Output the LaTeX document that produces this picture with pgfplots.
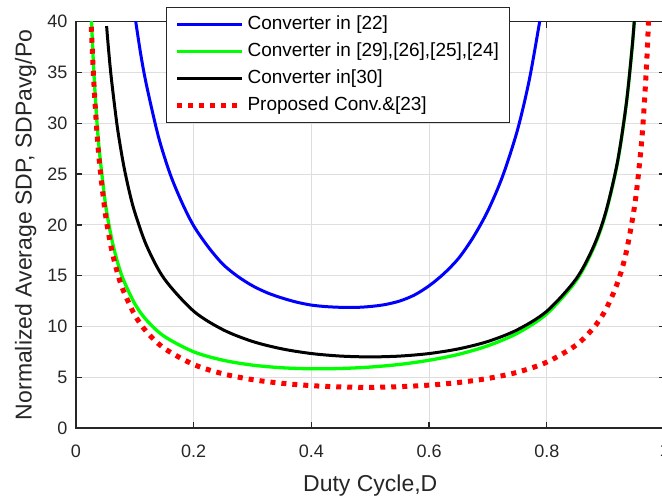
\documentclass[border=0pt]{standalone}
\usepackage{fontspec}
\setmainfont{Liberation Sans}
\usepackage{pgfplots}
\pgfplotsset{compat=1.18}

\definecolor{axgray}{RGB}{38,38,38}
\definecolor{gridgray}{RGB}{222,222,222}

\begin{document}
\begin{tikzpicture}
\begin{axis}[
  scale only axis,
  width=588.5bp, height=406.3bp,
  xmin=0, xmax=1, ymin=0, ymax=40,
  xtick={0,0.2,0.4,0.6,0.8,1},
  ytick={0,5,...,40},
  /pgf/number format/assume math mode=true,
  tick label style={font=\fontsize{18bp}{20bp}\selectfont, color=axgray},
  xticklabel style={yshift=-13bp},
  yticklabel style={xshift=-5bp},
  tick align=inside,
  major tick length=6bp,
  tick style={line width=1.3bp, color=axgray},
  axis line style={line width=1.3bp, color=axgray},
  grid=major,
  major grid style={line width=1bp, color=gridgray},
  xlabel={Duty Cycle,D},
  ylabel={Normalized Average SDP, SDPavg/Po},
  label style={font=\fontsize{23bp}{26bp}\selectfont, color=axgray},
  xlabel style={at={(axis description cs:0.5,-0.1568)}, anchor=base},
  ylabel style={at={(axis description cs:-0.0753,0.5)}, anchor=base},
  legend cell align=left,
  legend image code/.code={\draw[#1] (0bp,0bp) -- (65bp,0bp);},
  legend style={at={(0.153,1.036)}, anchor=north west,
    draw=axgray, line width=1bp, fill=white,
    font=\fontsize{19bp}{22bp}\selectfont,
    inner xsep=8bp, inner ysep=3.5bp,
    nodes={inner xsep=3bp, inner ysep=4.5bp, text height=14bp, text depth=4bp}},
]
% Converter in [22]
\addplot[color=blue, line width=3bp, smooth] coordinates {
  (0.100,40.6) (0.110,36.8) (0.120,33.7) (0.140,28.7) (0.160,25.0)
  (0.180,22.2) (0.200,19.9) (0.225,17.8) (0.250,16.1) (0.275,14.92)
  (0.300,14.0) (0.325,13.31) (0.350,12.8) (0.375,12.39) (0.400,12.1)
  (0.425,11.95) (0.450,11.88) (0.475,11.87) (0.500,11.96) (0.525,12.15)
  (0.550,12.5) (0.575,13.09) (0.600,14.0) (0.625,15.19) (0.650,16.7)
  (0.675,18.78) (0.700,21.4) (0.725,24.8) (0.750,29.3) (0.770,34.2)
  (0.787,39.7) (0.790,40.7)
};
\addlegendentry{Converter in [22]}

% Converter in [29],[26],[25],[24]
\addplot[color=green, line width=3.3bp, smooth] coordinates {
  (0.026,40.5) (0.030,35.4) (0.035,30.6) (0.040,27.1) (0.050,22.1)
  (0.060,18.79) (0.070,16.44) (0.080,14.67) (0.100,12.22) (0.120,10.61)
  (0.150,9.02) (0.200,7.50) (0.250,6.67) (0.300,6.19) (0.350,5.93)
  (0.400,5.83) (0.450,5.86) (0.500,6.00) (0.550,6.26) (0.600,6.67)
  (0.650,7.25) (0.700,8.10) (0.750,9.33) (0.800,11.25) (0.850,14.51)
  (0.880,17.80) (0.900,21.11) (0.920,26.09) (0.935,31.84) (0.945,37.42)
  (0.950,41.05)
};
\addlegendentry{Converter in [29],[26],[25],[24]}

% Converter in [30]
\addplot[color=black, line width=3bp, smooth] coordinates {
  (0.052,39.57) (0.055,37.48) (0.060,34.46) (0.070,29.72) (0.080,26.17)
  (0.090,23.42) (0.100,21.22) (0.120,17.94) (0.150,14.69) (0.200,11.50)
  (0.250,9.67) (0.300,8.52) (0.350,7.79) (0.400,7.33) (0.450,7.08)
  (0.500,7.00) (0.550,7.08) (0.600,7.33) (0.650,7.79) (0.700,8.52)
  (0.750,9.67) (0.800,11.50) (0.850,14.69) (0.880,17.94) (0.900,21.22)
  (0.920,26.17) (0.935,31.90) (0.945,37.48) (0.950,41.10)
};
\addlegendentry{Converter in[30]}

% Proposed Conv. & [23]
\addplot[color=red, line width=5bp, dash pattern=on 5bp off 6bp, smooth] coordinates {
  (0.026,39.5) (0.030,34.36) (0.035,29.61) (0.040,26.04) (0.050,21.05)
  (0.060,17.73) (0.070,15.36) (0.080,13.59) (0.100,11.11) (0.120,9.47)
  (0.150,7.84) (0.200,6.25) (0.250,5.33) (0.300,4.76) (0.350,4.40)
  (0.400,4.17) (0.450,4.04) (0.500,4.00) (0.550,4.07) (0.600,4.22)
  (0.650,4.48) (0.700,4.88) (0.750,5.49) (0.800,6.48) (0.850,8.17)
  (0.880,9.90) (0.900,11.64) (0.920,14.27) (0.935,17.31) (0.950,22.19)
  (0.960,27.48) (0.965,31.26) (0.970,36.30) (0.974,41.7)
};
\addlegendentry{Proposed Conv.\&[23]}

\coordinate (bl) at (rel axis cs:0,0);
\end{axis}
\pgfresetboundingbox
\path[use as bounding box] (bl) ++(-76bp,-70bp) rectangle ++(662bp,498bp);
\end{tikzpicture}
\end{document}
